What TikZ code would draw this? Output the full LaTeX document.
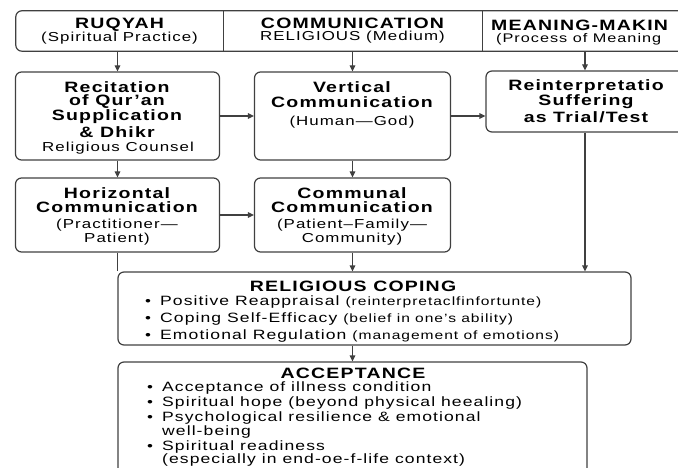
\documentclass[tikz,border=0pt]{standalone}
\usepackage{fontspec}
\setmainfont{Liberation Sans}[FakeStretch=1.3,LetterSpace=8]
\usetikzlibrary{arrows.meta}

\tikzset{
  box/.style={draw=black!75,line width=1.2pt,rounded corners=6pt,minimum width=#1},
  cell/.style={minimum width=#1,minimum height=40pt,inner sep=0pt,align=center},
  ttl/.style={font=\fontsize{15}{17}\selectfont\bfseries,inner sep=0pt,text=black},
  sub/.style={font=\fontsize{13}{15}\selectfont,inner sep=0pt,text=black},
  item/.style={font=\fontsize{13.5}{15}\selectfont,inner sep=0pt,anchor=west,text=black},
  link/.style={draw=black!75,line width=1.2pt,-{Triangle[length=6pt,width=5.5pt]}},
  plain/.style={draw=black!75,line width=1.2pt},
}
\newcommand{\bul}{\makebox[15pt][l]{\fontsize{13}{13}\selectfont•}}
\newcommand{\note}[1]{{\fontsize{12}{13}\selectfont#1}}

\begin{document}
\begin{tikzpicture}[x=1pt,y=-1pt]
\useasboundingbox (0,0) rectangle (678,468);
\clip (0,0) rectangle (678,468);
\node[cell=207pt] (ruqyah) at (119.5,31) {{\fontsize{15}{17}\selectfont\bfseries RUQYAH}\\[0pt]{\fontsize{13}{14}\selectfont(Spiritual Practice)}};
\node[cell=259pt] (comm) at (352.5,31) {{\fontsize{15}{17}\selectfont\bfseries COMMUNICATION}\\[0pt]{\fontsize{13}{14}\selectfont RELIGIOUS (Medium)}};
\node[cell=218pt] (meaning) at (591,31) {};
\node[ttl,anchor=west] (meaning-t) at (491,25) {MEANING-MAKIN};
\node[sub,anchor=west,font=\fontsize{12.5}{14}\selectfont] (meaning-s) at (496,39) {(Process of Meaning};
\draw[plain,rounded corners=6pt] (meaning.north east) -- (ruqyah.north west) -- (ruqyah.south west) -- (meaning.south east);
\draw[plain] (ruqyah.north east) -- (ruqyah.south east);
\draw[plain] (comm.north east) -- (comm.south east);

\node[box=204pt,minimum height=88pt] (recite) at (117.5,116) {};
\node[box=196pt,minimum height=88pt] (vertical) at (352.5,116) {};
\node[box=198pt,minimum height=61pt] (reinterp) at (585,101.5) {};
\node[box=204pt,minimum height=74pt] (horiz) at (117.5,215) {};
\node[box=196pt,minimum height=74pt] (communal) at (352.5,215) {};
\node[box=513pt,minimum height=73pt] (coping) at (374.5,308.5) {};
\node[box=469pt,minimum height=120pt] (accept) at (352.5,422) {};

\foreach \t/\y [count=\i] in {Recitation/87,of Qur’an/102,Supplication/117,\& Dhikr/132}
  \node[ttl] (recite-\i) at (117,\y) {\t};
\node[sub] (recite-5) at (118,148) {Religious Counsel};
\foreach \t/\y [count=\i] in {Vertical/87,Communication/102}
  \node[ttl] (vertical-\i) at (352,\y) {\t};
\node[sub] (vertical-3) at (352,122) {(Human—God)};
\foreach \t/\y [count=\i] in {Reinterpretatio/87,Suffering/102,{as Trial/Test}/117}
  \node[ttl] (reinterp-\i) at (586,\y) {\t};
\foreach \t/\y [count=\i] in {Horizontal/193,Communication/207}
  \node[ttl] (horiz-\i) at (117,\y) {\t};
\node[sub] (horiz-3) at (117,225) {(Practitioner—};
\node[sub] (horiz-4) at (117,239) {Patient)};
\foreach \t/\y [count=\i] in {Communal/193,Communication/207}
  \node[ttl] (communal-\i) at (352,\y) {\t};
\node[sub] (communal-3) at (352,225) {(Patient–Family—};
\node[sub] (communal-4) at (352,239) {Community)};

\node[ttl] (coping-t) at (353,286) {RELIGIOUS COPING};
\node[item] (coping-1) at (145,302) {\bul Positive Reappraisal \note{(reinterpretaclfinfortunte)}};
\node[item] (coping-2) at (145,319) {\bul Coping Self-Efficacy \note{(belief in one’s ability)}};
\node[item] (coping-3) at (145,336) {\bul Emotional Regulation \note{(management of emotions)}};

\node[ttl] (accept-t) at (353,373) {ACCEPTANCE};
\node[item] (accept-1) at (147,388) {\bul Acceptance of illness condition};
\node[item] (accept-2) at (147,403) {\bul Spiritual hope (beyond physical heealing)};
\node[item] (accept-3) at (147,418.5) {\bul Psychological resilience \& emotional};
\node[item] (accept-4) at (147,432) {\hspace{15pt}well-being};
\node[item] (accept-5) at (147,447) {\bul Spiritual readiness};
\node[item] (accept-6) at (147,460) {\hspace{15pt}(especially in end-oe-f-life context)};

\draw[link] (recite.north |- ruqyah.south) -- (recite.north);
\draw[link] (vertical.north |- comm.south) -- (vertical.north);
\draw[link] (reinterp.north |- meaning.south) -- (reinterp.north);
\draw[link] (recite.east) -- (vertical.west);
\draw[link] (vertical.east) -- (vertical.east -| reinterp.west);
\draw[link] (recite.south) -- (horiz.north);
\draw[link] (vertical.south) -- (communal.north);
\draw[link] (horiz.east) -- (communal.west);
\draw[plain] (horiz.south) -- (horiz.south |- coping.north);
\draw[link] (communal.south) -- (communal.south |- coping.north);
\draw[link] (reinterp.south) -- (reinterp.south |- coping.north);
\draw[link] (accept.north |- coping.south) -- (accept.north);
\end{tikzpicture}
\end{document}
